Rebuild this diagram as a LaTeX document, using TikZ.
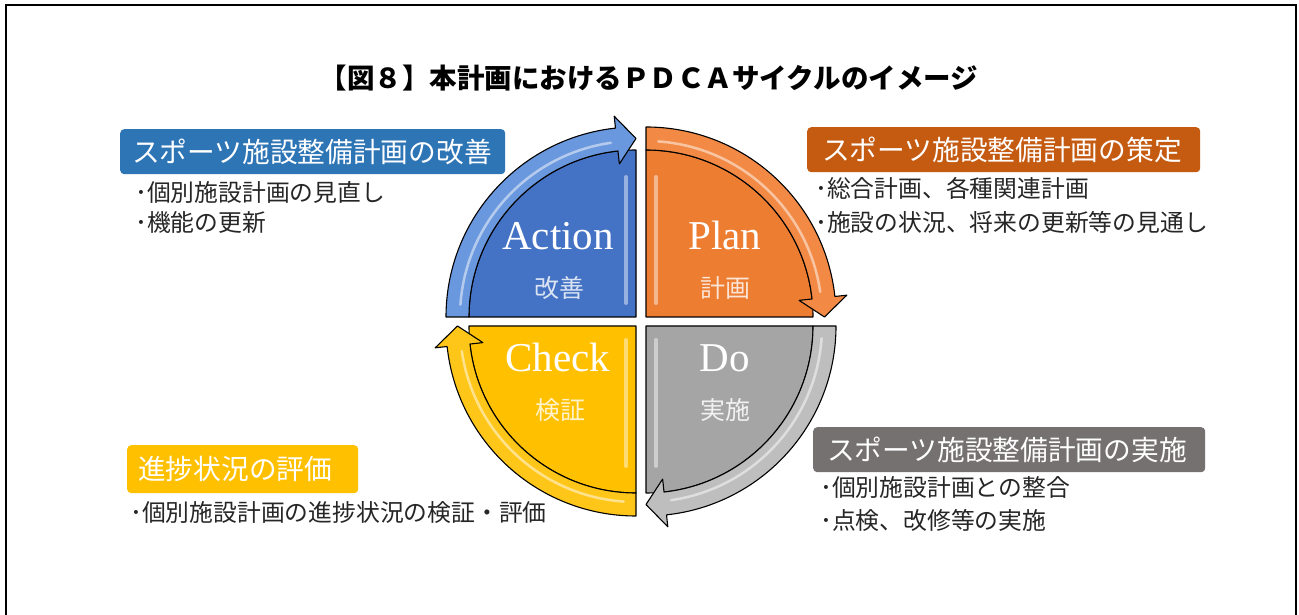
\documentclass[tikz,border=0pt]{standalone}
\usepackage{fontspec}
\setmainfont{Liberation Serif}
\newfontfamily\jp{Noto Sans CJK JP}
\definecolor{qblue}{HTML}{4472C4}
\definecolor{ablue}{HTML}{6A98DE}
\definecolor{qorange}{HTML}{ED7D31}
\definecolor{aorange}{HTML}{F28A45}
\definecolor{qgray}{HTML}{A5A5A5}
\definecolor{agray}{HTML}{BEBEBE}
\definecolor{qyellow}{HTML}{FFC000}
\definecolor{ayellow}{HTML}{FFC61A}
\definecolor{bblue}{HTML}{2E75B6}
\definecolor{borange}{HTML}{C55A11}
\definecolor{bgray}{HTML}{767171}
\definecolor{byellow}{HTML}{FFC000}
\newcommand\pdcaquad[7]{%
\begin{scope}[shift={(#1,#2)}]
\pgfmathsetmacro\qa{#3}
\pgfmathsetmacro\qe{#3-90}
\pgfmathsetmacro\qb{#3-90+6.2}
\pgfmathsetmacro\qs{#3-4}
\pgfmathsetmacro\qt{#3-90+8.2}
\fill[#4] (0,0) -- (\qe:167) arc[start angle=\qe, end angle=\qa, radius=167] -- cycle;
\draw[white, opacity=.45, line width=4pt, line cap=round] (#6,#7*14) -- (#6,#7*140);
\draw[quadline] (0,0) -- (\qe:167) arc[start angle=\qe, end angle=\qa, radius=167] -- cycle;
\filldraw[quadline, fill=#5] (\qa:167) -- (\qa:190) arc[start angle=\qa, end angle=\qb, radius=190]
  -- (\qb:202) -- (\qe:178.5) -- (\qb:154) -- (\qb:167)
  arc[start angle=\qb, end angle=\qa, radius=167] -- cycle;
\draw[white, opacity=.5, line width=2.5pt, line cap=round] (\qs:176) arc[start angle=\qs, end angle=\qt, radius=176];
\end{scope}}
\begin{document}
\begin{tikzpicture}[x=1pt,y=1pt,
  frame/.style={line width=2.5pt, draw=black},
  quadline/.style={draw=black, line width=1.1pt, line join=round},
  title/.style={font=\jp\bfseries\fontsize{27.5}{30}\selectfont, text=black},
  lbox/.style={rounded corners=4pt, inner ysep=0pt, anchor=north west, align=left,
     text=white, font=\jp\fontsize{27.7}{30}\selectfont},
  bullet/.style={text=black!85, font=\jp\fontsize{23.8}{26}\selectfont, anchor=west, inner sep=0pt},
  big/.style={text=white, font=\fontsize{41}{44}\selectfont, anchor=base},
  sub/.style={font=\jp\fontsize{25}{28}\selectfont}]
\useasboundingbox (0,0) rectangle (1299,615);
\fill[white] (0,0) rectangle (1299,615);
\draw[frame] (6,0) -- (6,610) -- (1296,610) -- (1296,0);
\node[title] (title) at (649,537) {【図８】本計画におけるＰＤＣＡサイクルのイメージ};
% quadrants
\pdcaquad{636}{298}{180}{qblue}{ablue}{-10}{1}
\pdcaquad{646}{298}{90}{qorange}{aorange}{10}{1}
\pdcaquad{646}{289}{0}{qgray}{agray}{10}{-1}
\pdcaquad{636}{289}{270}{qyellow}{ayellow}{-10}{-1}
% quadrant labels
\node[big] (action) at (558,365) {Action};
\node[sub, text=white!80!qblue] (kaizen) at (559,327) {改善};
\node[big] (plan) at (725,365) {Plan};
\node[sub, text=white!80!qorange] (keikaku) at (725,327) {計画};
\node[big] (check) at (558,243) {Check};
\node[sub, text=white!80!qyellow] (kensho) at (560,205) {検証};
\node[big] (do) at (725,243) {Do};
\node[sub, text=white!85!qgray] (jisshi) at (725,205) {実施};
% label boxes
\node[lbox, fill=bblue, minimum height=45pt, text width=361pt, inner xsep=12pt] (boxA) at (120,486) {スポーツ施設整備計画の改善};
\node[lbox, fill=borange, minimum height=45pt, text width=363pt, inner xsep=15pt] (boxP) at (807,488) {スポーツ施設整備計画の策定};
\node[lbox, fill=bgray, minimum height=45pt, text width=364pt, inner xsep=14pt] (boxD) at (813,188) {スポーツ施設整備計画の実施};
\node[lbox, fill=byellow, minimum height=48pt, text width=209pt, inner xsep=11pt] (boxC) at (127,170) {進捗状況の評価};
% bullets
\node[bullet] (a1) at (135,423) {･個別施設計画の見直し};
\node[bullet] (a2) at (135,393) {･機能の更新};
\node[bullet] (p1) at (815,427) {･総合計画、各種関連計画};
\node[bullet] (p2) at (815,393) {･施設の状況、将来の更新等の見通し};
\node[bullet] (c1) at (130,102) {･個別施設計画の進捗状況の検証・評価};
\node[bullet] (d1) at (820,128) {･個別施設計画との整合};
\node[bullet] (d2) at (820,95) {･点検、改修等の実施};
\end{tikzpicture}
\end{document}
